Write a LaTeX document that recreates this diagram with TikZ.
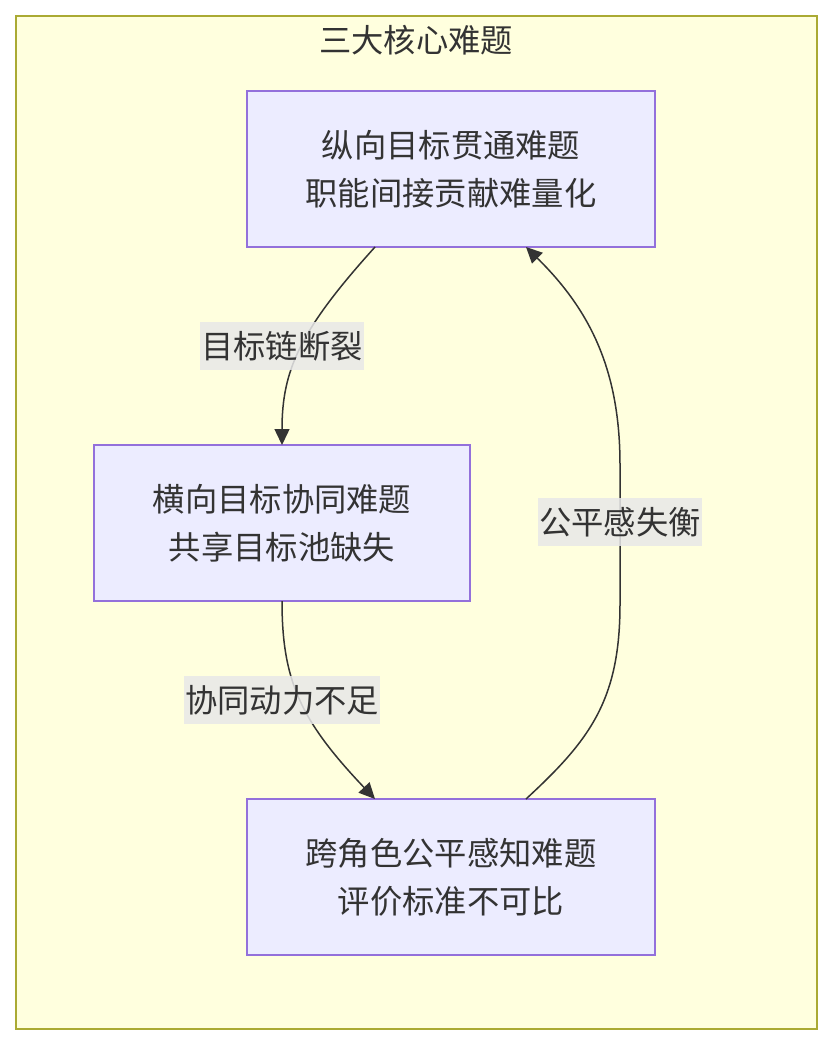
\documentclass[tikz,border=0pt]{standalone}
\usepackage{fontspec}
\setmainfont{Noto Sans CJK SC}
\usetikzlibrary{arrows.meta}
\definecolor{clusterfill}{HTML}{FFFFDE}
\definecolor{clusterline}{HTML}{AAAA33}
\definecolor{nodefill}{HTML}{ECECFF}
\definecolor{nodeline}{HTML}{9370DB}
\definecolor{txt}{HTML}{333333}
\definecolor{lblbg}{HTML}{E8E8E8}
\begin{document}
\begin{tikzpicture}[x=1pt,y=-1pt,
  every node/.style={text=txt, font=\fontsize{32.3}{48}\selectfont},
  probbox/.style={draw=nodeline, fill=nodefill, line width=1.5pt, minimum width=408pt, minimum height=156pt, inner sep=0pt, align=center},
  edgelabel/.style={fill=lblbg, fill opacity=0.85, text opacity=1, inner sep=1pt, minimum height=48pt},
  conn/.style={draw=txt, line width=1.5pt, -{Triangle[length=16pt,width=15pt]}}]
\useasboundingbox (0,0) rectangle (833,1046);
\fill[white] (0,0) rectangle (833,1046);
\draw[clusterline, fill=clusterfill, line width=1.5pt] (16,16) rectangle (817,1029);
\node (title) at (416,40) {三大核心难题};
\node[probbox] (a) at (451,169) {纵向目标贯通难题\\职能间接贡献难量化};
\node[probbox, minimum width=376pt] (b) at (282,523) {横向目标协同难题\\共享目标池缺失};
\node[probbox] (c) at (451,877) {跨角色公平感知难题\\评价标准不可比};
\coordinate (a1) at (375,247);
\coordinate (a2) at (526,247);
\coordinate (b1) at (282,445);
\coordinate (b2) at (282,601);
\coordinate (c1) at (375,799);
\coordinate (c2) at (526,799);
\draw[conn] (a1) .. controls (300,330) and (282,370) .. (b1);
\draw[conn] (b2) .. controls (282,680) and (300,720) .. (c1);
\draw[conn] (c2) .. controls (590,740) and (620,700) .. (620,604) -- (620,465) .. controls (620,370) and (590,310) .. (a2);
\node[edgelabel] (l1) at (282,346) {目标链断裂};
\node[edgelabel] (l2) at (282,700) {协同动力不足};
\node[edgelabel] (l3) at (620,522) {公平感失衡};
\end{tikzpicture}
\end{document}
